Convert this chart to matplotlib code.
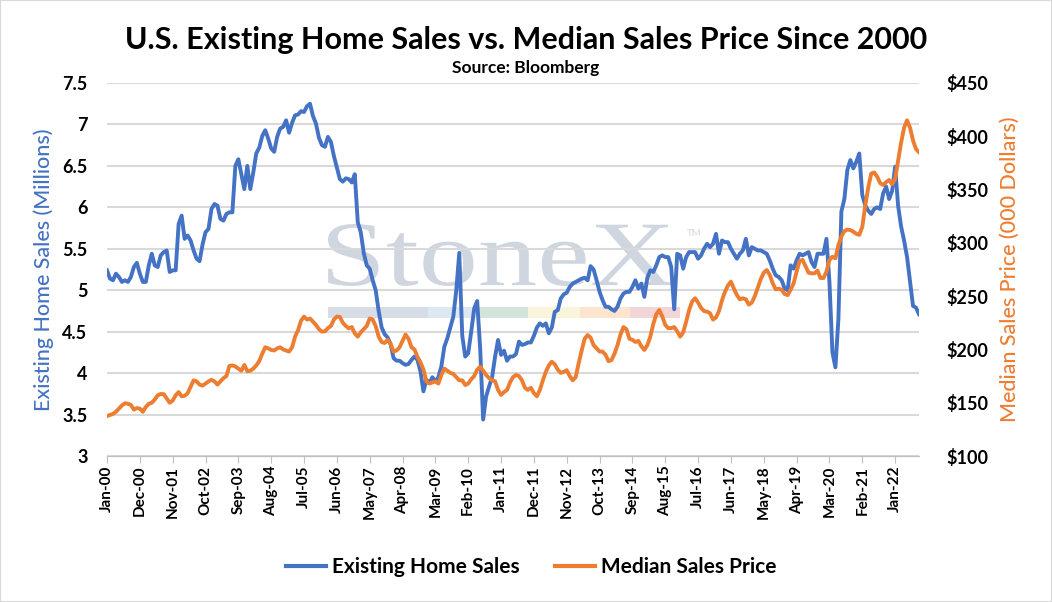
import numpy as np
import pandas as pd
import matplotlib
matplotlib.use('Agg')
import matplotlib.pyplot as plt
from matplotlib.patches import Rectangle, PathPatch
from matplotlib.lines import Line2D
from matplotlib.textpath import TextPath
from matplotlib.font_manager import FontProperties
from matplotlib.transforms import Affine2D

# Existing home sales, SAAR millions, Jan-2000 .. Sep-2022
home_sales = [
    5.24, 5.14, 5.12, 5.20, 5.16, 5.10, 5.12, 5.10, 5.16, 5.28, 5.33, 5.20,   # 2000
    5.10, 5.10, 5.30, 5.44, 5.30, 5.28, 5.42, 5.46, 5.48, 5.22, 5.24, 5.24,   # 2001
    5.80, 5.90, 5.62, 5.66, 5.60, 5.48, 5.38, 5.35, 5.55, 5.70, 5.74, 5.98,   # 2002
    6.04, 6.02, 5.86, 5.84, 5.92, 5.94, 5.94, 6.50, 6.58, 6.40, 6.22, 6.50,   # 2003
    6.22, 6.42, 6.65, 6.72, 6.86, 6.93, 6.83, 6.71, 6.67, 6.85, 6.95, 6.97,   # 2004
    7.05, 6.90, 7.02, 7.11, 7.12, 7.16, 7.15, 7.22, 7.25, 7.10, 7.01, 6.84,   # 2005
    6.75, 6.73, 6.85, 6.79, 6.62, 6.48, 6.34, 6.31, 6.35, 6.34, 6.30, 6.40,   # 2006
    5.82, 5.70, 5.45, 5.30, 5.26, 5.12, 5.00, 4.75, 4.55, 4.47, 4.43, 4.35,   # 2007
    4.18, 4.15, 4.15, 4.12, 4.10, 4.11, 4.16, 4.20, 4.16, 4.02, 3.78, 3.92,   # 2008
    3.88, 3.95, 3.90, 3.95, 4.08, 4.32, 4.42, 4.55, 4.68, 5.00, 5.45, 4.45,   # 2009
    4.20, 4.24, 4.50, 4.78, 4.87, 4.30, 3.44, 3.72, 3.84, 3.95, 4.20, 4.40,   # 2010
    4.22, 4.27, 4.15, 4.20, 4.20, 4.23, 4.38, 4.34, 4.35, 4.37, 4.37, 4.45,   # 2011
    4.55, 4.60, 4.57, 4.60, 4.48, 4.55, 4.74, 4.76, 4.90, 4.95, 4.97, 5.04,   # 2012
    5.08, 5.10, 5.12, 5.14, 5.15, 5.12, 5.29, 5.25, 5.12, 4.98, 4.88, 4.80,   # 2013
    4.80, 4.77, 4.75, 4.80, 4.90, 4.96, 4.98, 4.98, 5.04, 5.12, 5.02, 5.08,   # 2014
    4.92, 5.15, 5.24, 5.22, 5.30, 5.40, 5.42, 5.40, 5.40, 5.28, 4.77, 5.44,   # 2015
    5.42, 5.26, 5.40, 5.46, 5.46, 5.46, 5.38, 5.42, 5.50, 5.56, 5.52, 5.56,   # 2016
    5.68, 5.44, 5.60, 5.58, 5.58, 5.50, 5.44, 5.38, 5.44, 5.48, 5.62, 5.42,   # 2017
    5.52, 5.50, 5.48, 5.48, 5.46, 5.44, 5.36, 5.26, 5.18, 5.16, 5.12, 5.02,   # 2018
    5.00, 5.30, 5.26, 5.36, 5.44, 5.42, 5.44, 5.46, 5.34, 5.28, 5.44, 5.44,   # 2019
    5.44, 5.62, 5.10, 4.25, 4.07, 4.65, 5.95, 6.10, 6.45, 6.57, 6.47, 6.55,   # 2020
    6.65, 6.15, 6.02, 5.96, 5.92, 5.98, 6.00, 5.98, 6.17, 6.25, 6.10, 6.20,   # 2021
    6.49, 6.02, 5.77, 5.60, 5.40, 5.10, 4.81, 4.79, 4.71,                     # 2022
]

# Median sales price, thousands of dollars
median_price = [
    137.5, 138.5, 139.5, 141.5, 144.5, 147.5, 149.5, 149, 148, 143.5, 145, 144.5,
    141.5, 146, 149, 150, 153, 157, 158.2, 158, 154, 150, 152, 157,
    160, 156, 156.5, 158.8, 165, 171, 170, 167, 166, 168, 170, 171.5,
    170, 167, 170, 173, 175, 184.5, 185, 184, 182, 180, 185.4, 179.5,
    180, 182, 185, 189, 196, 202, 201, 199.5, 199, 201, 202, 200,
    199, 198, 202, 212, 218, 227, 230.8, 228, 229, 226, 223, 219,
    216.7, 217, 220, 222, 228, 230.8, 230.5, 225, 222, 219.8, 221, 215,
    212, 216, 219, 222, 229, 228, 222, 212, 207, 206, 209, 205,
    198, 199, 202, 208, 214, 210, 202, 200, 193, 188, 181, 170,
    168, 169, 170, 168, 176, 182, 180, 178, 177, 174, 171, 171,
    166.6, 168, 172, 175, 181, 183.8, 180, 176, 173, 171, 170, 162,
    157.3, 160, 162, 169, 174, 176, 175, 171, 164, 162, 164, 159,
    156, 162, 171, 179, 185, 188.5, 186, 181, 178, 179, 180.5, 175,
    171, 174, 187, 199, 210, 213.5, 211, 204, 201, 198, 198, 195,
    189, 190, 196, 204, 214, 221, 219, 210, 209, 207, 208, 203,
    199.5, 204, 212, 224, 233, 237, 231, 223, 220, 220, 221, 217,
    212, 216, 226, 237, 245, 248, 244, 239, 236, 235.4, 234, 228,
    230, 236, 246, 254, 260, 263.6, 257, 251, 247, 248, 247, 242,
    244, 250, 258, 266, 272, 274.5, 270, 262, 256.4, 257, 256, 252,
    251, 256, 262, 273, 283, 284, 278, 272, 271.4, 271.4, 274, 267,
    267, 273, 284, 287, 285.5, 298, 306, 311, 312.5, 312, 310.5, 308.5,
    307.5, 315, 335, 352, 365, 366, 362, 356, 354.3, 357, 359, 355,
    360, 377, 394, 408, 415, 408, 396, 388, 385,
]

months = pd.date_range('2000-01-01', periods=len(home_sales), freq='MS')
month_labels = months.strftime('%b-%y')

left_ticks = [3, 3.5, 4, 4.5, 5, 5.5, 6, 6.5, 7, 7.5]
right_ticks = [100, 150, 200, 250, 300, 350, 400, 450]

BLUE = '#4472C4'
ORANGE = '#ED7D31'
GRID = '#d9d9d9'
MARK = '#d0d6df'

plt.rcParams['font.family'] = ['Lato', 'DejaVu Sans']

fig = plt.figure(figsize=(10.52, 6.02), dpi=100)
ax = fig.add_axes([107 / 1052, 1 - 456 / 602, 812 / 1052, 373 / 602])
ax2 = ax.twinx()

x = np.arange(len(home_sales))
ax.plot(x, home_sales, color=BLUE, lw=2.8, solid_joinstyle='round', zorder=3)
ax2.plot(x, median_price, color=ORANGE, lw=2.8, solid_joinstyle='round', zorder=3)

ax.set_xlim(0, len(home_sales) - 1)
ax.set_ylim(3, 7.5)
ax2.set_ylim(100, 450)

ax.set_yticks(left_ticks)
ax.set_yticklabels([f'{t:g}' for t in left_ticks], fontsize=13, fontweight='bold')
ax2.set_yticks(right_ticks)
ax2.set_yticklabels([f'${t}' for t in right_ticks], fontsize=13, fontweight='bold')

tick_pos = x[::11]
ax.set_xticks(tick_pos)
ax.set_xticklabels(month_labels[::11], rotation=90, fontsize=11, fontweight='bold')

ax.grid(axis='y', color=GRID, lw=1.5, zorder=0.5)
ax.set_axisbelow(True)
for a in (ax, ax2):
    for s in ('top', 'left', 'right'):
        a.spines[s].set_visible(False)
    a.spines['bottom'].set_color('#bfbfbf')
ax.tick_params(axis='y', length=0, pad=14)
ax2.tick_params(axis='y', length=0, pad=20)
ax.tick_params(axis='x', length=5, color='#bfbfbf', pad=2)

ax.set_ylabel('Existing Home Sales (Millions)', color=BLUE, fontsize=15.5,
              fontweight='medium', labelpad=6)
ax2.set_ylabel('Median Sales Price (000 Dollars)', color=ORANGE, fontsize=15.5,
               fontweight='medium', labelpad=8)

# watermark: word stretched into its box, under the gridlines
tp = TextPath((0, 0), 'StoneX', size=1, prop=FontProperties(family='Liberation Serif'))
ext = tp.get_extents()
bx0, bx1 = (328 - 107) / 812, (673 - 107) / 812
by0, by1 = (456 - 286) / 373, (456 - 224) / 373
fit = (Affine2D().translate(-ext.x0, -ext.y0)
       .scale((bx1 - bx0) / ext.width, (by1 - by0) / ext.height)
       .translate(bx0, by0))
ax.add_patch(PathPatch(fit.transform_path(tp), transform=ax.transAxes,
                       facecolor=MARK, edgecolor='none', zorder=0.2))
ax.text((694 - 107) / 812, (456 - 233) / 373, 'TM', transform=ax.transAxes,
        fontsize=7, color=MARK, ha='center', va='center', zorder=0.2)
bar_edges = [328, 428, 478, 528, 580, 630, 680]
bar_colors = ['#d6dde7', '#dce9f3', '#d3e5da', '#f8f5dc', '#fbe5cf', '#f3d5d8']
for x0, x1, c in zip(bar_edges[:-1], bar_edges[1:], bar_colors):
    ax.add_patch(Rectangle(((x0 - 107) / 812, (456 - 318) / 373), (x1 - x0) / 812, 11 / 373,
                           transform=ax.transAxes, color=c, lw=0, zorder=0.2))

fig.text(0.5, 1 - 40 / 602, 'U.S. Existing Home Sales vs. Median Sales Price Since 2000',
         ha='center', va='center', fontsize=22, fontweight='bold')
fig.text(0.5, 1 - 68 / 602, 'Source: Bloomberg', ha='center', va='center',
         fontsize=12.5, fontweight='bold')

handles = [Line2D([], [], color=BLUE, lw=3), Line2D([], [], color=ORANGE, lw=3)]
fig.legend(handles, ['Existing Home Sales', 'Median Sales Price'], loc='center',
           bbox_to_anchor=(0.505, 1 - 567 / 602), ncol=2, frameon=False,
           prop={'size': 15, 'weight': 'bold'}, handlelength=1.9, handletextpad=0.3,
           columnspacing=1.7)

fig.add_artist(Rectangle((0, 0), 1, 1, transform=fig.transFigure, fill=False,
                         edgecolor='#d9d9d9', lw=1.5))

fig.savefig('out.png', dpi=100)
